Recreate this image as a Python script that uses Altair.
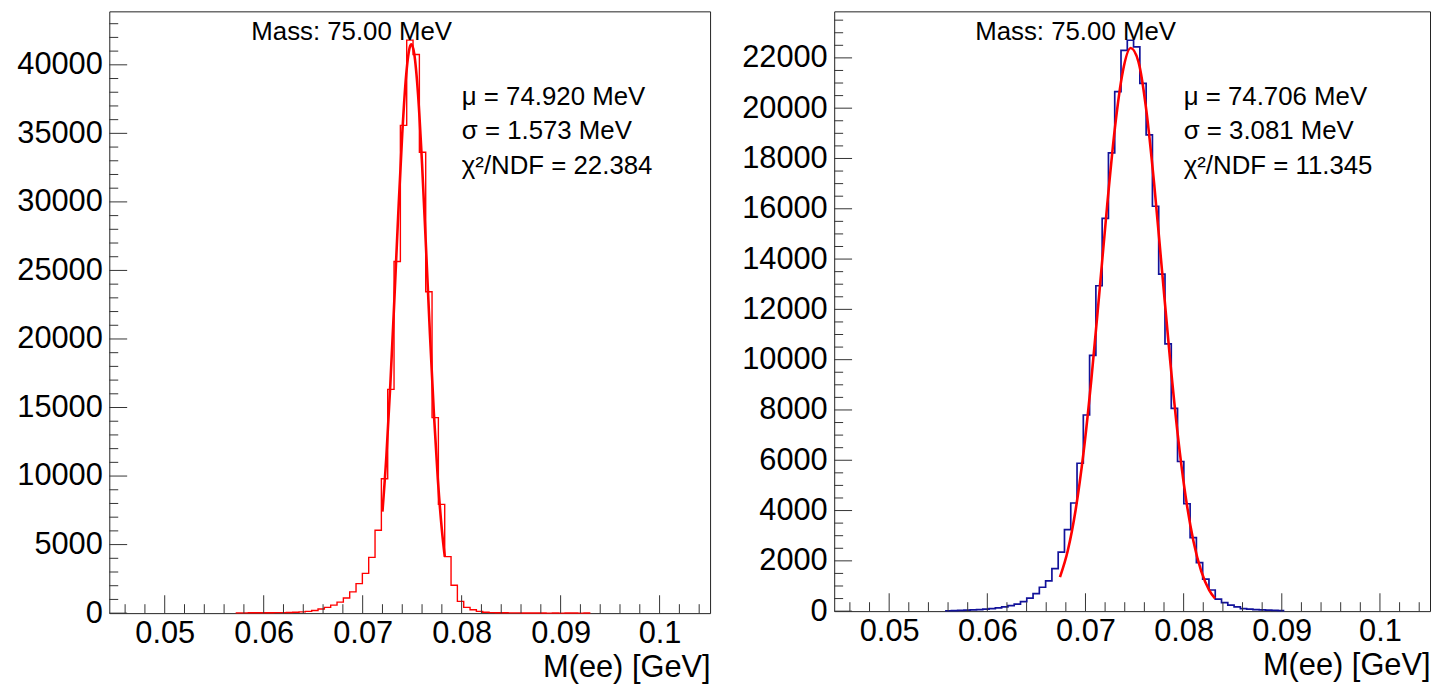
import altair as alt
import pandas as pd

FONT = "Liberation Sans"
BIN_W = 0.00064
X_DOMAIN = [0.0444, 0.1051]

# ---- left panel (narrow peak) ----
left_first_edge = 0.05717
left_counts = [20, 20, 25, 25, 30, 30, 35, 40, 45, 60,
               90, 130, 190, 300, 420, 580, 800, 1100, 1550, 2150,
               2900, 4070, 6050, 9800, 16320, 25650, 35580, 41800, 40750, 33620,
               23440, 14260, 7930, 4120, 2030, 860, 420, 250, 130, 60,
               40, 30, 25, 20, 15, 12, 10, 8, 5, 0,
               5, 0, 5, 5, 0, 5]
left_fit_x = [0.0720, 0.0724, 0.0728, 0.0732, 0.0736, 0.0740, 0.0744, 0.0748, 0.07492,
              0.0752, 0.0756, 0.0760, 0.0764, 0.0768, 0.0772, 0.0776, 0.0780, 0.0783]
left_fit_y = [7400, 11500, 16740, 22820, 29190, 34980, 39290, 41380, 41500,
              40850, 37800, 32780, 26660, 20320, 14520, 9720, 6100, 4100]
left_ymax = 43900
left_title = "Mass: 75.00 MeV"
left_stats = ["\u03bc = 74.920 MeV", "\u03c3 = 1.573 MeV", "\u03c7\u00b2/NDF = 22.384"]

# ---- right panel (wider peak) ----
right_first_edge = 0.05570
right_counts = [15, 20, 30, 40, 50, 60, 80, 100, 130, 170,
                220, 280, 380, 520, 700, 950, 1200, 1690, 2350, 3245,
                4300, 5880, 7800, 10170, 12940, 15620, 18220, 20660, 22300, 22700,
                22440, 20990, 18940, 16100, 13400, 10630, 8060, 5950, 4270, 2920,
                1930, 1270, 840, 475, 340, 240, 170, 100, 80, 60,
                50, 40, 30, 20]
right_fit_x = [0.0674, 0.0682, 0.0690, 0.0698, 0.0706, 0.0714, 0.0722, 0.0730, 0.0738,
               0.0746, 0.0754, 0.0762, 0.0770, 0.0778, 0.0786, 0.0794, 0.0802, 0.0810,
               0.0818, 0.0826, 0.0832]
right_fit_y = [1350, 2410, 4030, 6300, 9220, 12600, 16090, 19220, 21450,
               22390, 21840, 19910, 16980, 13530, 10080, 7020, 4570, 2780,
               1580, 840, 500]
right_ymax = 23850
right_title = "Mass: 75.00 MeV"
right_stats = ["\u03bc = 74.706 MeV", "\u03c3 = 3.081 MeV", "\u03c7\u00b2/NDF = 11.345"]

# ---- axis ticks ----
x_major = [0.05, 0.06, 0.07, 0.08, 0.09, 0.10]
x_minor = [round(0.046 + 0.002 * i, 3) for i in range(30)]
x_minor = [v for v in x_minor if all(abs(v - m) > 1e-6 for m in x_major)]
left_y_major = [0, 5000, 10000, 15000, 20000, 25000, 30000, 35000, 40000]
left_y_minor = [v for v in range(1000, 44000, 1000) if v % 5000 != 0]
right_y_major = [0, 2000, 4000, 6000, 8000, 10000, 12000, 14000, 16000, 18000, 20000, 22000]
right_y_minor = [v for v in range(500, 24000, 500) if v % 2000 != 0]

TICK_COLOR = "#333333"


def panel(first_edge, counts, fit_x, fit_y, hist_color, hist_width, ymax, y_major, y_minor,
          w, h, title_txt, stats, title_px, stats_px):
    edges = [first_edge + i * BIN_W for i in range(len(counts) + 1)]
    hist_df = pd.DataFrame({"x": edges, "y": counts + [counts[-1]]})
    fit_df = pd.DataFrame({"x": fit_x, "y": fit_y})

    xs = alt.Scale(domain=X_DOMAIN, nice=False, zero=False)
    ys = alt.Scale(domain=[0, ymax], nice=False, zero=False)
    xaxis = alt.Axis(values=x_major, format=".2~f", tickSize=0, domain=False, grid=False,
                     labelFontSize=31, labelFont=FONT, labelColor="black", labelPadding=6,
                     labelFlush=False, title="M(ee) [GeV]", titleFont=FONT, titleFontSize=31,
                     titleFontWeight="normal", titleColor="black", titleAnchor="end",
                     titlePadding=4)
    yaxis = alt.Axis(values=y_major, format="d", tickSize=0, domain=False, grid=False,
                     labelFontSize=31, labelFont=FONT, labelColor="black", labelPadding=7,
                     labelFlush=False, title=None)

    X = alt.X("x:Q", scale=xs, axis=xaxis)
    Y = alt.Y("y:Q", scale=ys, axis=yaxis)

    hist = alt.Chart(hist_df).mark_line(interpolate="step-after", color=hist_color,
                                        strokeWidth=hist_width).encode(x=X, y=Y)
    fit = alt.Chart(fit_df).mark_line(interpolate="monotone", color="#ff0000",
                                      strokeWidth=2.6).encode(x=X, y=Y)

    xmaj = alt.Chart(pd.DataFrame({"x": x_major})).mark_rule(
        color=TICK_COLOR, strokeWidth=1).encode(x=X, y=alt.value(h), y2=alt.value(h - 18))
    xmin = alt.Chart(pd.DataFrame({"x": x_minor})).mark_rule(
        color=TICK_COLOR, strokeWidth=1).encode(x=X, y=alt.value(h), y2=alt.value(h - 9))
    ymaj = alt.Chart(pd.DataFrame({"y": y_major})).mark_rule(
        color=TICK_COLOR, strokeWidth=1).encode(y=Y, x=alt.value(0), x2=alt.value(18))
    ymin = alt.Chart(pd.DataFrame({"y": y_minor})).mark_rule(
        color=TICK_COLOR, strokeWidth=1).encode(y=Y, x=alt.value(0), x2=alt.value(9))

    one = pd.DataFrame({"a": [0]})
    title = alt.Chart(one).mark_text(text=title_txt, font=FONT, fontSize=26, color="black",
                                     align="left", baseline="alphabetic").encode(
        x=alt.value(title_px[0]), y=alt.value(title_px[1]))
    stat = alt.Chart(one).mark_text(text=stats, font=FONT, fontSize=26, color="black",
                                    align="left", baseline="alphabetic", lineHeight=35).encode(
        x=alt.value(stats_px[0]), y=alt.value(stats_px[1]))

    return alt.layer(hist, fit, xmin, xmaj, ymin, ymaj, title, stat).properties(
        width=w, height=h)


left = panel(left_first_edge, left_counts, left_fit_x, left_fit_y, "#ff0000", 1.4, left_ymax,
             left_y_major, left_y_minor, 605, 606, left_title, left_stats, (143, 29), (355, 94))
right = panel(right_first_edge, right_counts, right_fit_x, right_fit_y, "#12129a", 1.7, right_ymax,
              right_y_major, right_y_minor, 600, 604, right_title, right_stats, (142, 29), (352, 94))

chart = alt.hconcat(left, right, spacing=30).properties(
    padding={"left": 8, "top": 0, "right": 0, "bottom": 0},
    background="white",
).configure_view(stroke="#222222", strokeWidth=1)

chart.save("out.html", embed_options={"renderer": "svg", "actions": False})
